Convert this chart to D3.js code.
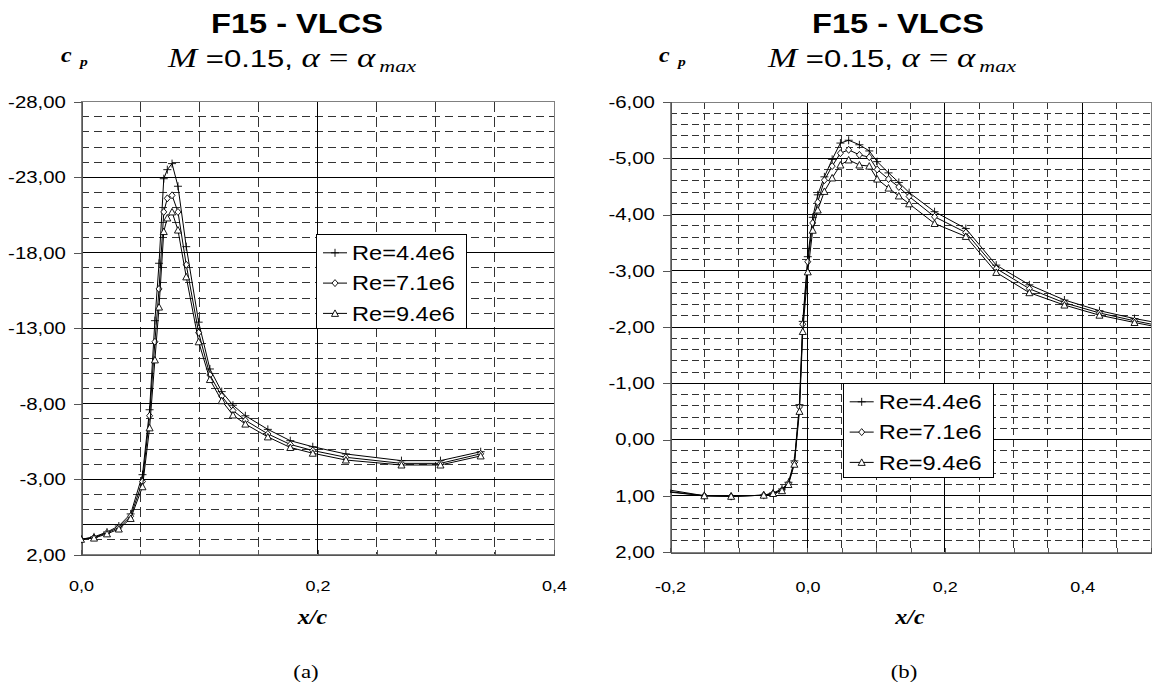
<!DOCTYPE html>
<html>
<head>
<meta charset="utf-8">
<script src="https://cdn.jsdelivr.net/npm/d3@7"></script>
<style>
	body { margin: 0; background: #fff; }
	svg { display: block; }
</style>
</head>
<body>
<script>
//series labels, same for both panels
var seriesNames = ["Re=4.4e6", "Re=7.1e6", "Re=9.4e6"];

//panel (a): tap positions x/c and cp for each Reynolds number
var xA = [0, 0.011, 0.022, 0.032, 0.042, 0.052, 0.058, 0.0625, 0.066, 0.070, 0.073, 0.077, 0.082, 0.089, 0.0995,
	0.109, 0.119, 0.1285, 0.139, 0.158, 0.177, 0.196, 0.224, 0.271, 0.304, 0.338];
var cpA44 = [0.98, 0.82, 0.5, 0.1, -0.7, -3.3, -7.6, -13.5, -17.3, -22.9, -23.5, -23.9, -22.4, -18.4, -13.4,
	-10.3, -8.8, -7.9, -7.2, -6.3, -5.55, -5.15, -4.67, -4.23, -4.23, -4.82];
var cpA71 = [0.98, 0.86, 0.55, 0.2, -0.55, -2.85, -7.2, -12.1, -15.6, -20.7, -21.6, -21.8, -20.7, -17.2, -12.7,
	-9.9, -8.5, -7.55, -6.9, -6.0, -5.3, -4.9, -4.45, -4.05, -4.05, -4.68];
var cpA94 = [0.98, 0.9, 0.62, 0.3, -0.4, -2.5, -6.4, -10.9, -14.4, -19.4, -20.3, -20.7, -19.5, -16.4, -12.1,
	-9.6, -8.2, -7.25, -6.65, -5.8, -5.1, -4.72, -4.27, -3.94, -3.94, -4.54];
var yTicksA = [-28, -23, -18, -13, -8, -3, 2];
var xTicksA = [0, 0.2, 0.4];

//panel (b)
var xB = [-0.26, -0.15, -0.111, -0.0636, -0.05, -0.037, -0.0276, -0.019, -0.0116, -0.0068, 0.0005, 0.0077, 0.015,
	0.0247, 0.036, 0.048, 0.060, 0.0756, 0.090, 0.1015, 0.118, 0.133, 0.148, 0.185, 0.2305, 0.2748, 0.323,
	0.374, 0.425, 0.476, 0.53];
var cpB44 = [0.78, 1.0, 1.01, 0.99, 0.95, 0.88, 0.76, 0.38, -0.62, -2.1, -3.25, -3.95, -4.35, -4.67, -4.98, -5.27,
	-5.32, -5.24, -5.13, -4.94, -4.74, -4.57, -4.39, -4.05, -3.75, -3.10, -2.75, -2.48, -2.29, -2.15, -2.03];
var cpB71 = [0.84, 1.0, 1.01, 0.99, 0.96, 0.9, 0.78, 0.41, -0.58, -2.05, -3.16, -3.85, -4.22, -4.61, -4.86, -5.09,
	-5.15, -5.06, -5.02, -4.8, -4.63, -4.49, -4.32, -3.96, -3.68, -3.04, -2.68, -2.43, -2.25, -2.11, -1.98];
var cpB94 = [0.86, 1.0, 1.01, 0.99, 0.96, 0.91, 0.8, 0.44, -0.5, -1.92, -2.98, -3.72, -4.08, -4.41, -4.65, -4.88,
	-4.97, -4.88, -4.86, -4.63, -4.47, -4.33, -4.19, -3.84, -3.61, -2.97, -2.61, -2.39, -2.21, -2.08, -1.95];
var yTicksB = [-6, -5, -4, -3, -2, -1, 0, 1, 2];
var xTicksB = [-0.2, 0, 0.2, 0.4];

(function () {
	var sans = "'Liberation Sans', Arial, sans-serif",
		serif = "'Liberation Serif', 'Times New Roman', serif";
	var stretch = 1.2; //the source figure is widened a bit

	//comma decimals and plain hyphen minus, like the source
	var loc = d3.formatLocale({ decimal: ",", thousands: ".", grouping: [3], currency: ["", ""], minus: "-" });
	var fmtY = loc.format(".2f"), fmtX = loc.format(".1f");

	//marker shapes, one per series
	var markers = [
		{ d: "M-4,0H4M0,-4V4", fill: "none" },
		{ d: "M0,-3.5L3,0L0,3.5L-3,0Z", fill: "#fff" },
		{ d: "M0,-3.5L3.5,3L-3.5,3Z", fill: "#fff" }
	];

	var svg = d3.select("body").append("svg")
		.attr("width", 1153)
		.attr("height", 687);

	var panels = [
		{
			id: "a", xs: xA, series: [cpA44, cpA71, cpA94],
			xDomain: [0, 0.4], yDomain: [-28, 2], xRange: [81, 554], yRange: [101.7, 554.7],
			yTicks: yTicksA, yMinor: d3.range(-28, 3, 1), xTicks: xTicksA, xMinor: d3.range(0, 9).map(function (i) { return i * 0.05; }),
			zeroLine: true, hDash: "8,5", vDash: "10,5",
			titleX: 297, subX: 293, cpX: 61, xcX: 312.5, tagX: 306, tag: "(a)", legX: 316, legY: 234.3
		},
		{
			id: "b", xs: xB, series: [cpB44, cpB71, cpB94],
			xDomain: [-0.2, 0.5], yDomain: [-6, 2], xRange: [670, 1151], yRange: [102, 552],
			yTicks: yTicksB, yMinor: d3.range(0, 41).map(function (i) { return -6 + i * 0.2; }), xTicks: xTicksB,
			xMinor: d3.range(0, 15).map(function (i) { return -0.2 + i * 0.05; }),
			zeroLine: false, hDash: "7,4", vDash: "7,4.25",
			titleX: 898, subX: 893, cpX: 659, xcX: 910, tagX: 904, tag: "(b)", legX: 842.7, legY: 383.3
		}
	];

	panels.forEach(drawPanel);

	//scale a text horizontally so it reads like the widened figure
	function widen(sel, x, y, sx) {
		sel.attr("transform", "translate(" + x + "," + y + ") scale(" + sx + ",1)");
	}

	//fit a text to a given width, centred on cx
	function fitCentered(sel, cx, y, width) {
		var w = sel.node().getBBox().width;
		sel.attr("text-anchor", "start")
			.attr("transform", "translate(" + (cx - width / 2) + "," + y + ") scale(" + (width / w) + ",1)");
	}

	function near(a, list) {
		return list.some(function (b) { return Math.abs(a - b) < 1e-6; });
	}

	function crisp(v) {
		return Math.round(v - 0.5) + 0.5;
	}

	function drawPanel(p) {
		var x = d3.scaleLinear().domain(p.xDomain).range(p.xRange);
		//cp axis runs negative upwards: first domain value sits at the top
		var y = d3.scaleLinear().domain(p.yDomain).range(p.yRange);
		var g = svg.append("g").attr("class", "panel " + p.id);
		var x0 = p.xRange[0], x1 = p.xRange[1], y0 = p.yRange[0], y1 = p.yRange[1];

		//dashed minor grid
		var hMinor = p.yMinor.filter(function (v) { return !near(v, p.yTicks) && !(p.zeroLine && near(v, [0])); });
		g.selectAll(".hminor").data(hMinor).enter().append("line")
			.attr("x1", x0).attr("x2", x1)
			.attr("y1", function (d) { return crisp(y(d)); })
			.attr("y2", function (d) { return crisp(y(d)); })
			.attr("stroke", "#333").attr("stroke-dasharray", p.hDash)
			.attr("shape-rendering", "crispEdges");

		var vMinor = p.xMinor.filter(function (v) { return !near(v, p.xTicks) && !near(v, p.xDomain); });
		g.selectAll(".vminor").data(vMinor).enter().append("line")
			.attr("y1", y0).attr("y2", y1)
			.attr("x1", function (d) { return crisp(x(d)); })
			.attr("x2", function (d) { return crisp(x(d)); })
			.attr("stroke", "#333").attr("stroke-dasharray", p.vDash)
			.attr("shape-rendering", "crispEdges");

		//solid major grid
		var hMajor = p.yTicks.filter(function (v) { return !near(v, p.yDomain); });
		if (p.zeroLine) hMajor.push(0);
		g.selectAll(".hmajor").data(hMajor).enter().append("line")
			.attr("x1", x0).attr("x2", x1)
			.attr("y1", function (d) { return crisp(y(d)); })
			.attr("y2", function (d) { return crisp(y(d)); })
			.attr("stroke", "#000").attr("shape-rendering", "crispEdges");

		var vMajor = p.xTicks.filter(function (v) { return !near(v, p.xDomain); });
		g.selectAll(".vmajor").data(vMajor).enter().append("line")
			.attr("y1", y0).attr("y2", y1)
			.attr("x1", function (d) { return crisp(x(d)); })
			.attr("x2", function (d) { return crisp(x(d)); })
			.attr("stroke", "#000").attr("shape-rendering", "crispEdges");

		//plot border
		g.append("rect")
			.attr("x", crisp(x0)).attr("y", crisp(y0))
			.attr("width", Math.round(x1 - x0)).attr("height", Math.round(y1 - y0))
			.attr("fill", "none").attr("stroke", "#808080")
			.attr("shape-rendering", "crispEdges");

		//y axis
		var yAxis = g.append("g")
			.attr("transform", "translate(" + crisp(x0) + ",0)")
			.call(d3.axisLeft(y).tickValues(p.yTicks).tickSize(8).tickPadding(5).tickFormat(fmtY));
		yAxis.select(".domain").attr("stroke", "#555").attr("shape-rendering", "crispEdges");
		yAxis.selectAll(".tick line").attr("stroke", "#555").attr("shape-rendering", "crispEdges");
		yAxis.selectAll(".tick text")
			.attr("font-family", sans).attr("font-size", 17).attr("fill", "#000")
			.attr("transform", "scale(" + stretch + ",1)");

		//x axis: small inward ticks every 0.05, labels every 0.2
		var xAxis = g.append("g")
			.attr("transform", "translate(0," + crisp(y1) + ")")
			.call(d3.axisBottom(x).tickValues(p.xMinor).tickSizeInner(-5).tickSizeOuter(0).tickPadding(p.id == "a" ? 26 : 29)
				.tickFormat(function (d) { return near(d, p.xTicks) ? fmtX(d) : ""; }));
		xAxis.select(".domain").attr("stroke", "#555").attr("shape-rendering", "crispEdges");
		xAxis.selectAll(".tick line").attr("stroke", "#555").attr("shape-rendering", "crispEdges");
		xAxis.selectAll(".tick text")
			.attr("font-family", sans).attr("font-size", 15).attr("fill", "#000")
			.attr("transform", "scale(" + stretch + ",1)");

		//curves
		var clipId = "clip-" + p.id;
		svg.append("clipPath").attr("id", clipId).append("rect")
			.attr("x", x0).attr("y", y0 - 4).attr("width", x1 - x0).attr("height", y1 - y0 + 8);

		var line = d3.line()
			.x(function (d) { return x(d[0]); })
			.y(function (d) { return y(d[1]); });

		var plot = g.append("g").attr("clip-path", "url(#" + clipId + ")");
		p.series.forEach(function (cp, s) {
			var pts = p.xs.map(function (xv, i) { return [xv, cp[i]]; });
			plot.append("path")
				.datum(pts)
				.attr("d", line)
				.attr("fill", "none")
				.attr("stroke", "#000")
				.attr("stroke-width", 1);
			plot.selectAll(".m" + s)
				.data(pts)
				.enter()
				.append("path")
				.attr("class", "m" + s)
				.attr("transform", function (d) { return "translate(" + x(d[0]) + "," + y(d[1]) + ")"; })
				.attr("d", markers[s].d)
				.attr("fill", markers[s].fill)
				.attr("stroke", "#000")
				.attr("stroke-width", 0.9);
		});

		//legend
		var leg = g.append("g").attr("transform", "translate(" + p.legX + "," + p.legY + ")");
		leg.append("rect")
			.attr("x", 0.5).attr("y", 0.5).attr("width", 150).attr("height", 94)
			.attr("fill", "#fff").attr("stroke", "#000")
			.attr("shape-rendering", "crispEdges");
		seriesNames.forEach(function (name, s) {
			var ly = 18.5 + s * 30.3;
			leg.append("line")
				.attr("x1", 7).attr("x2", 31).attr("y1", ly).attr("y2", ly)
				.attr("stroke", "#000");
			leg.append("path")
				.attr("transform", "translate(19," + ly + ")")
				.attr("d", markers[s].d)
				.attr("fill", markers[s].fill)
				.attr("stroke", "#000")
				.attr("stroke-width", 0.9);
			var t = leg.append("text")
				.attr("font-family", sans).attr("font-size", 20)
				.text(name);
			var w = t.node().getBBox().width;
			t.attr("transform", "translate(36," + (ly + 7.2) + ") scale(" + (103 / w) + ",1)");
		});

		//title
		var title = svg.append("text")
			.attr("font-family", sans).attr("font-size", 27).attr("font-weight", "bold")
			.text("F15 - VLCS");
		fitCentered(title, p.titleX, 32.7, 172);

		//subtitle: M =0.15, alpha = alpha max
		var sub = svg.append("text").attr("font-size", 24);
		sub.append("tspan").attr("font-family", serif).attr("font-style", "italic").attr("font-size", 27).text("M");
		sub.append("tspan").attr("font-family", sans).text(" =0.15, ");
		sub.append("tspan").attr("font-family", serif).attr("font-style", "italic").attr("font-size", 27).text("α");
		sub.append("tspan").attr("font-family", serif).attr("font-size", 27).text(" = ");
		sub.append("tspan").attr("font-family", serif).attr("font-style", "italic").attr("font-size", 27).text("α");
		sub.append("tspan").attr("font-family", serif).attr("font-style", "italic").attr("font-size", 17)
			.attr("dx", 3).attr("dy", 5).text("max");
		fitCentered(sub, p.subX, 66.7, 250);

		//c_p axis label
		var cpLab = svg.append("text")
			.attr("font-family", serif).attr("font-style", "italic").attr("font-weight", "bold");
		cpLab.append("tspan").attr("font-size", 20).text("c");
		cpLab.append("tspan").attr("font-size", 13).attr("dx", 7).attr("dy", 4).text("p");
		widen(cpLab, p.cpX, 62, stretch);

		//x/c axis label
		var xcLab = svg.append("text")
			.attr("font-family", serif).attr("font-style", "italic").attr("font-weight", "bold")
			.attr("font-size", 20).attr("text-anchor", "middle")
			.text("x/c");
		widen(xcLab, p.xcX, 624, stretch);

		//panel tag
		var tag = svg.append("text")
			.attr("font-family", serif).attr("font-size", 19).attr("text-anchor", "middle")
			.text(p.tag);
		widen(tag, p.tagX, 678, stretch);
	}
})();
</script>
</body>
</html>
